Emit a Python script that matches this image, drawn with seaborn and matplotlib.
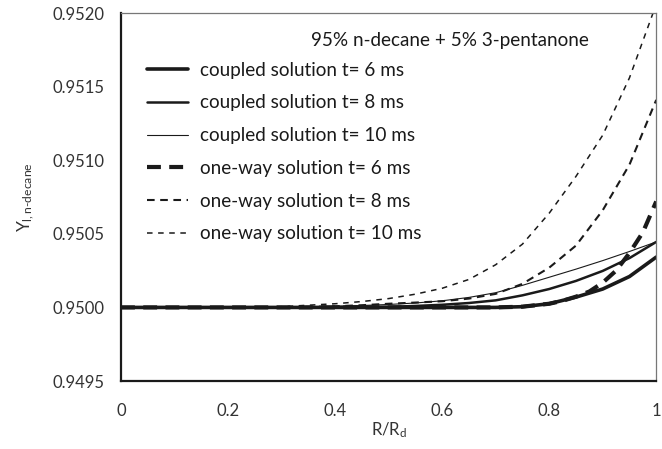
import matplotlib
matplotlib.use("Agg")
import matplotlib.pyplot as plt
import seaborn as sns
import pandas as pd

# Radial profiles of n-decane liquid mass fraction, Y_l vs R/R_d
coupled_6_x = [0.0, 0.1, 0.2, 0.3, 0.4, 0.5, 0.6, 0.7, 0.75, 0.8, 0.85, 0.9, 0.95, 1.0]
coupled_6_y = [0.95000, 0.95000, 0.95000, 0.95000, 0.95000, 0.95000, 0.95000,
               0.95000, 0.950005, 0.950025, 0.950070, 0.950125, 0.950210, 0.950342]

coupled_8_x = [0.0, 0.1, 0.2, 0.3, 0.4, 0.45, 0.5, 0.55, 0.6, 0.65, 0.7, 0.75, 0.8, 0.85, 0.9, 0.95, 1.0]
coupled_8_y = [0.95000, 0.95000, 0.95000, 0.95000, 0.95000, 0.950002, 0.950004, 0.950010,
               0.950018, 0.950030, 0.950048, 0.950082, 0.950125, 0.950180, 0.950248, 0.950335, 0.950445]

coupled_10_x = [0.0, 0.1, 0.2, 0.3, 0.4, 0.45, 0.5, 0.55, 0.6, 0.65, 0.7, 0.75, 0.8, 0.85, 0.9, 0.95, 1.0]
coupled_10_y = [0.95000, 0.95000, 0.95000, 0.950002, 0.950008, 0.950013, 0.950020, 0.950030,
                0.950045, 0.950068, 0.950100, 0.950150, 0.950205, 0.950260, 0.950318, 0.950380, 0.950445]

oneway_6_x = [0.0, 0.1, 0.2, 0.3, 0.4, 0.5, 0.6, 0.7, 0.75, 0.8, 0.825, 0.85, 0.875, 0.9, 0.925, 0.95, 0.975, 1.0]
oneway_6_y = [0.95000, 0.95000, 0.95000, 0.95000, 0.95000, 0.95000, 0.95000, 0.95000, 0.950005,
              0.950025, 0.950045, 0.950073, 0.950108, 0.950168, 0.950250, 0.950370, 0.950510, 0.950720]

oneway_8_x = [0.0, 0.1, 0.2, 0.3, 0.4, 0.45, 0.5, 0.55, 0.6, 0.65, 0.7, 0.75, 0.8, 0.85, 0.9, 0.95, 1.0]
oneway_8_y = [0.95000, 0.95000, 0.95000, 0.95000, 0.950008, 0.950015, 0.950025, 0.950033,
              0.950042, 0.950060, 0.950092, 0.950160, 0.950270, 0.950420, 0.950660, 0.950970, 0.951410]

oneway_10_x = [0.0, 0.1, 0.2, 0.3, 0.4, 0.45, 0.5, 0.55, 0.6, 0.65, 0.7, 0.75, 0.8, 0.85, 0.9, 0.95, 1.0]
oneway_10_y = [0.95000, 0.95000, 0.95000, 0.950005, 0.950025, 0.950040, 0.950060, 0.950090,
               0.950130, 0.950190, 0.950290, 0.950430, 0.950640, 0.950890, 0.951170, 0.951560, 0.952060]

series_labels = ["coupled solution t= 6 ms", "coupled solution t= 8 ms", "coupled solution t= 10 ms",
                 "one-way solution t= 6 ms", "one-way solution t= 8 ms", "one-way solution t= 10 ms"]
title_text = "95% n-decane + 5% 3-pentanone"

x_ticks = [0, 0.2, 0.4, 0.6, 0.8, 1]
x_ticklabels = ["0", "0.2", "0.4", "0.6", "0.8", "1"]
y_ticks = [0.9495, 0.9500, 0.9505, 0.9510, 0.9515, 0.9520]
y_ticklabels = ["0.9495", "0.9500", "0.9505", "0.9510", "0.9515", "0.9520"]

sns.set_theme(style="white")
plt.rcParams["font.family"] = ["Lato", "DejaVu Sans"]
plt.rcParams["mathtext.fontset"] = "custom"
plt.rcParams["mathtext.rm"] = "Lato"
plt.rcParams["mathtext.it"] = "Lato"
plt.rcParams["lines.scale_dashes"] = False

fig = plt.figure(figsize=(6.62, 4.49), dpi=100)
ax = fig.add_axes([0.1828, 0.1514, 0.8085, 0.8196])

data = [(coupled_6_x, coupled_6_y), (coupled_8_x, coupled_8_y), (coupled_10_x, coupled_10_y),
        (oneway_6_x, oneway_6_y), (oneway_8_x, oneway_8_y), (oneway_10_x, oneway_10_y)]
styles = [
    dict(lw=2.6, ls="-"),
    dict(lw=1.8, ls="-"),
    dict(lw=0.8, ls="-"),
    dict(lw=3.0, ls=(0, (10, 6))),
    dict(lw=1.5, ls=(0, (5.5, 4))),
    dict(lw=1.1, ls=(0, (4, 4))),
]

for (xs, ys), lab, st in zip(data, series_labels, styles):
    df = pd.DataFrame({"r": xs, "y": ys})
    sns.lineplot(data=df, x="r", y="y", ax=ax, color="#1a1a1a", linewidth=st["lw"],
                 linestyle=st["ls"], label=lab, sort=True, clip_on=True)

ax.set_xlim(0, 1)
ax.set_ylim(0.9495, 0.9520)
ax.set_xticks(x_ticks)
ax.set_xticklabels(x_ticklabels)
ax.set_yticks(y_ticks)
ax.set_yticklabels(y_ticklabels)
ax.tick_params(axis="both", which="major", direction="out", length=5, width=1,
               colors="#1a1a1a", labelsize=12, labelcolor="#333333")
ax.tick_params(axis="y", pad=7)
ax.tick_params(axis="x", pad=11)

for side in ["left", "bottom"]:
    ax.spines[side].set_color("#1a1a1a")
    ax.spines[side].set_linewidth(1.6)
for side in ["top", "right"]:
    ax.spines[side].set_color("#777777")
    ax.spines[side].set_linewidth(0.9)

ax.set_xlabel(r"R/R$_{\mathregular{d}}$", fontsize=12, color="#333333", labelpad=1)
ax.set_ylabel(r"Y$_{\mathregular{l,n\text{-}decane}}$", fontsize=12.5, color="#333333", labelpad=12)

ax.text(0.614, 0.925, title_text, transform=ax.transAxes, ha="center", va="center",
        fontsize=13.6, color="#1a1a1a")

leg = ax.legend(loc="upper left", bbox_to_anchor=(0.035, 0.888), frameon=False,
                fontsize=13.6, handlelength=2.15, handletextpad=0.62, labelspacing=0.83,
                borderaxespad=0)
for t in leg.get_texts():
    t.set_color("#1a1a1a")

fig.savefig("out.png", dpi=100)
